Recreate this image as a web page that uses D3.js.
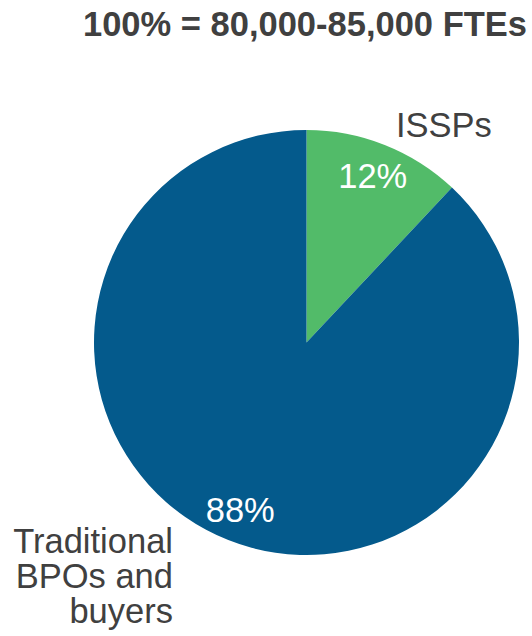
<!DOCTYPE html>
<html>
<head>
<meta charset="utf-8">
<script src="https://cdn.jsdelivr.net/npm/d3@7"></script>
<style>
  body { margin: 0; background: #fff; }
  svg { display: block; font-family: "Liberation Sans", Arial, sans-serif; }
</style>
</head>
<body>
<svg id="chart"></svg>
<script>
// share of FTEs by provider type
const categories = ["ISSPs", "Traditional BPOs and buyers"];
const shares = [12, 88];
const sliceColors = ["#52bb69", "#045a8c"];
const title = "100% = 80,000-85,000 FTEs";

const width = 532, height = 636;
const cx = 306.5, cy = 342.5, radius = 212.5;
const fontSize = 34.5;

const svg = d3.select("#chart")
    .attr("width", width)
    .attr("height", height);

// title, right aligned
svg.append("text")
    .attr("x", 527)
    .attr("y", 36)
    .attr("text-anchor", "end")
    .attr("font-size", 34.5)
    .attr("font-weight", "bold")
    .attr("fill", "#404040")
    .text(title);

const data = categories.map((c, i) => ({ cat: c, value: shares[i], color: sliceColors[i] }));

const pie = d3.pie()
    .value(d => d.value)
    .sort(null);

const arc = d3.arc().innerRadius(0).outerRadius(radius);
// percent labels sit on a ring inside the pie
const labelArc = d3.arc().innerRadius(180).outerRadius(180);

const chart = svg.append("g")
    .attr("transform", `translate(${cx},${cy})`);

const arcs = pie(data);

chart.selectAll(".slice")
    .data(arcs)
    .join("path")
        .attr("class", "slice")
        .attr("d", arc)
        .attr("fill", d => d.data.color);

chart.selectAll(".pct")
    .data(arcs)
    .join("text")
        .attr("class", "pct")
        .attr("transform", d => `translate(${labelArc.centroid(d)})`)
        .attr("dy", "0.36em")
        .attr("text-anchor", "middle")
        .attr("font-size", fontSize)
        .attr("fill", "#fff")
        .text(d => d.data.value + "%");

// category labels outside the pie
svg.append("text")
    .attr("x", 396)
    .attr("y", 137)
    .attr("font-size", fontSize)
    .attr("fill", "#404040")
    .text(categories[0]);

const lines = ["Traditional", "BPOs and", "buyers"];
svg.append("text")
    .attr("text-anchor", "end")
    .attr("font-size", fontSize)
    .attr("fill", "#404040")
    .selectAll("tspan")
    .data(lines)
    .join("tspan")
        .attr("x", 173)
        .attr("y", (d, i) => 553 + i * 35)
        .text(d => d);
</script>
</body>
</html>
